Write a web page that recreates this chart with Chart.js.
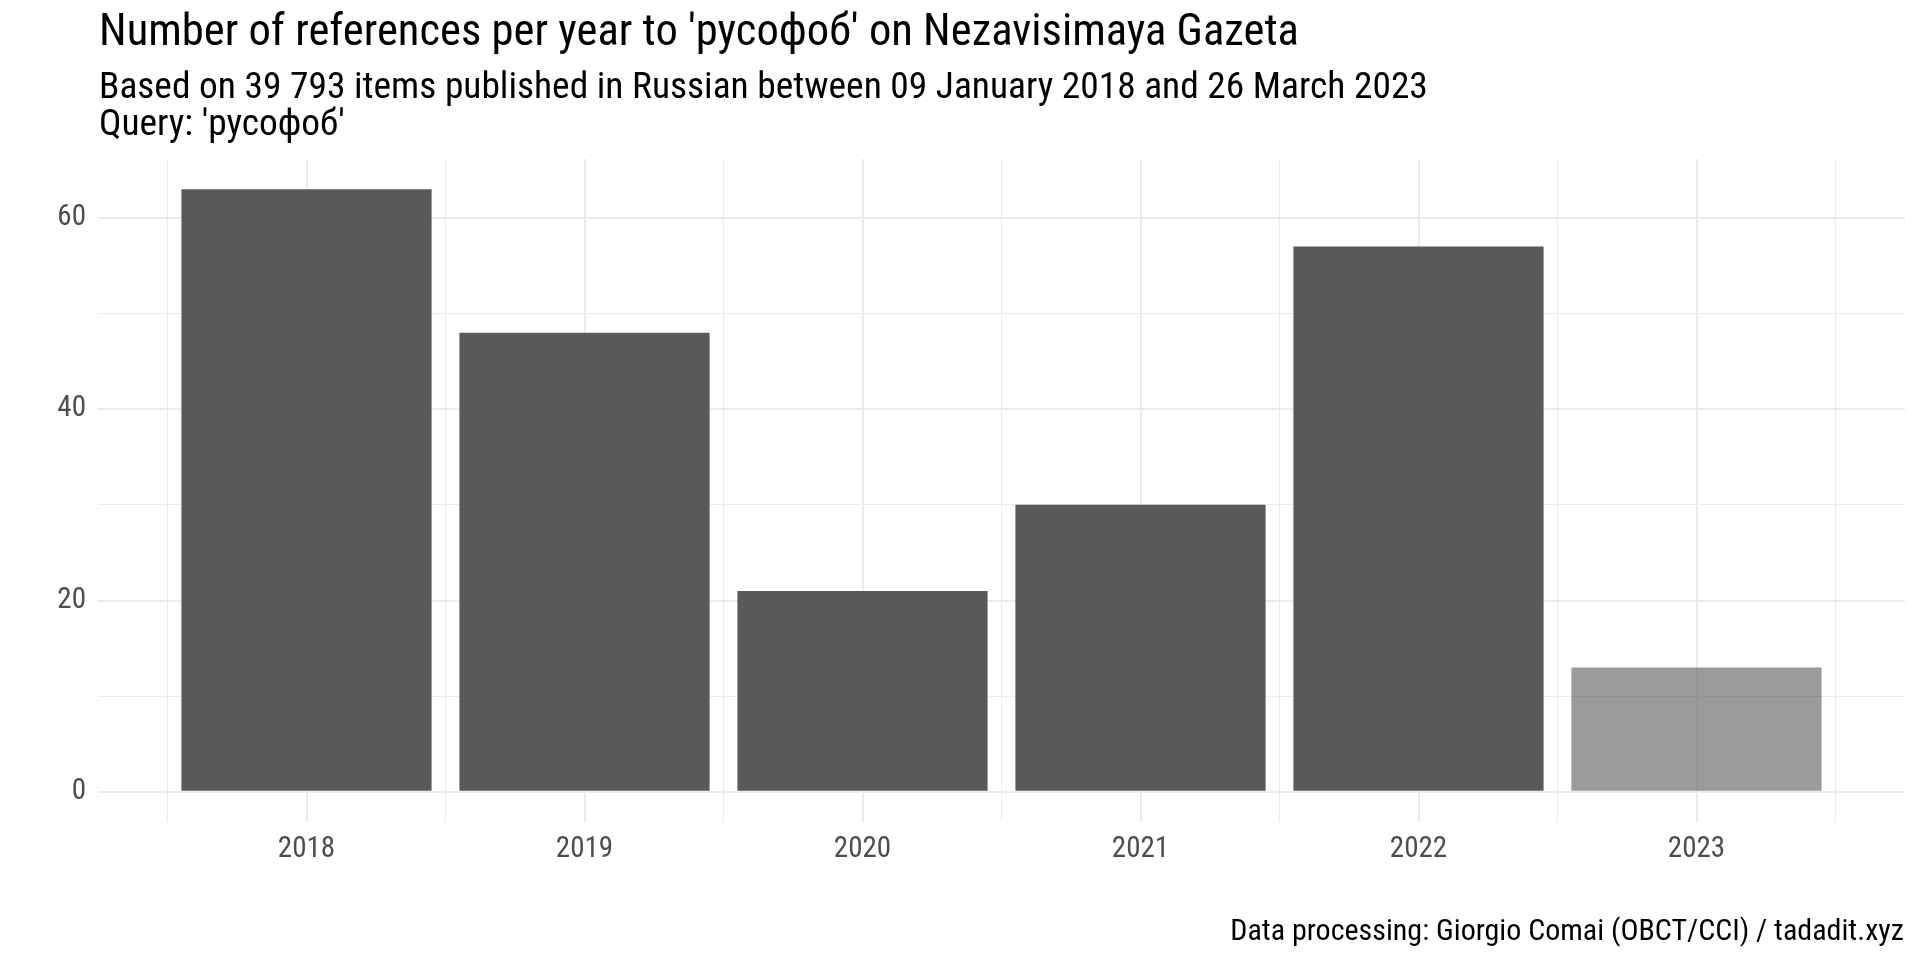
<!DOCTYPE html>
<html>
<head>
<meta charset="utf-8">
<script src="https://cdn.jsdelivr.net/npm/chart.js@4.4.1/dist/chart.umd.min.js"></script>
<style>
  html, body { margin: 0; padding: 0; background: #fff; }
  body { width: 1920px; height: 960px; position: relative; overflow: hidden;
         font-family: "Roboto Condensed", "Liberation Sans Narrow", "Roboto", sans-serif; }
  #wrap { position: absolute; left: 0; top: 0; width: 1920px; height: 960px; }
  .txt { position: absolute; white-space: nowrap; color: #000; line-height: 1; }
  #title { left: 99px; top: 8px; font-size: 44.6px; }
  #sub1 { left: 99px; top: 67px; font-size: 37.4px; }
  #sub2 { left: 99px; top: 104px; font-size: 37.4px; }
  #caption { right: 16px; top: 915px; font-size: 30px; }
</style>
</head>
<body>
<div id="wrap"><canvas id="barChart" width="1920" height="960"></canvas></div>
<div class="txt" id="title">Number of references per year to 'русофоб' on Nezavisimaya Gazeta</div>
<div class="txt" id="sub1">Based on 39 793 items published in Russian between 09 January 2018 and 26 March 2023</div>
<div class="txt" id="sub2">Query: 'русофоб'</div>
<div class="txt" id="caption">Data processing: Giorgio Comai (OBCT/CCI) / tadadit.xyz</div>
<script>
const years = ['2018', '2019', '2020', '2021', '2022', '2023'];
const references = [63, 48, 21, 30, 57, 13];
const yTicks = [0, 10, 20, 30, 40, 50, 60];
const yLabelTicks = [0, 20, 40, 60];

const FONT = '"Roboto Condensed", "Liberation Sans Narrow", "Roboto", sans-serif';
const GRID = '#ebebeb';

// partial year (2023) drawn lighter
const barColors = years.map((y, i) => i === years.length - 1 ? 'rgba(89,89,89,0.6)' : '#595959');

const ctx = document.getElementById('barChart').getContext('2d');
const chart = new Chart(ctx, {
  type: 'bar',
  data: {
    datasets: [{
      data: references.map((v, i) => ({ x: i, y: v })),
      backgroundColor: barColors,
      borderWidth: 0,
      // x ticks sit every half step, so the ruler sees half a category: 1.8 * 0.5 = 0.9
      barPercentage: 1.8,
      categoryPercentage: 1
    }]
  },
  options: {
    responsive: false,
    animation: false,
    layout: { padding: { top: 159, right: 15, bottom: 0, left: 0 } },
    plugins: {
      legend: { display: false },
      tooltip: { enabled: false }
    },
    scales: {
      x: {
        type: 'linear',
        offset: false,
        min: -0.75,
        max: years.length - 0.25,
        afterBuildTicks: function (scale) {
          const t = [];
          for (let i = -0.5; i <= years.length - 0.5; i += 0.5) t.push({ value: i });
          scale.ticks = t;
        },
        afterFit: function (scale) { scale.height = 138; },
        border: { display: false },
        grid: {
          offset: false,
          color: GRID,
          drawTicks: false,
          lineWidth: function (c) {
            return c.tick && Number.isInteger(c.tick.value) ? 2 : 1;
          }
        },
        ticks: {
          autoSkip: false,
          maxRotation: 0,
          padding: 10,
          color: '#4d4d4d',
          font: { family: FONT, size: 29 },
          callback: function (value) {
            return Number.isInteger(value) ? years[value] : '';
          }
        }
      },
      y: {
        min: -3.15,
        max: 66.15,
        afterBuildTicks: function (scale) {
          scale.ticks = yTicks.map(v => ({ value: v }));
        },
        afterFit: function (scale) { scale.width = 98; },
        border: { display: false },
        grid: {
          color: GRID,
          drawTicks: false,
          lineWidth: function (c) {
            return c.tick && yLabelTicks.includes(c.tick.value) ? 2 : 1;
          }
        },
        ticks: {
          padding: 12,
          color: '#4d4d4d',
          font: { family: FONT, size: 29 },
          callback: function (value) {
            return yLabelTicks.includes(value) ? value : '';
          }
        }
      }
    }
  }
});
</script>
</body>
</html>
